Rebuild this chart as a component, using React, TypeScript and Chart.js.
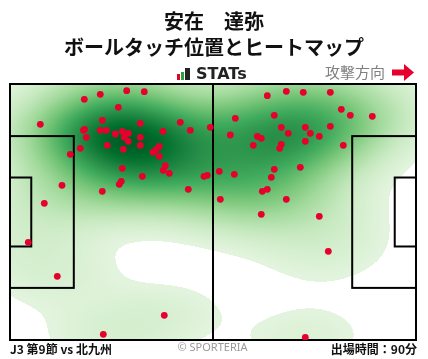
import React, { useEffect, useRef } from "react";
import { Chart, registerables } from "chart.js";

Chart.register(...registerables);

// Field in metres: 105 x 68 (x: attacking to the right, y: from top touchline)
const FIELD_LENGTH = 105;
const FIELD_WIDTH = 68;

const touchX: number[] = [
  30.18, 34.73, 23.35, 19.22, 28.01, 23.87, 7.84, 33.70, 44.04, 19.0, 19.3,
  23.35, 24.91, 29.04, 30.59, 27.23, 39.57, 46.63, 51.80, 19.73, 29.56, 33.70,
  30.59, 25.16, 33.70, 18.18, 29.30, 38.61, 37.68, 36.98, 15.59, 38.61, 40.16,
  39.65, 41.20, 29.04, 34.22, 50.17, 51.03, 28.78, 28.27, 23.87, 46.11, 13.45,
  8.87, 4.73, 12.23, 39.90, 24.13,
  71.46, 75.85, 82.84, 66.54, 85.68, 88.01, 93.70, 68.35, 58.27, 70.16, 76.37,
  82.84, 71.97, 77.66, 79.99, 56.97, 63.96, 64.99, 76.37, 62.92, 70.16, 69.75,
  86.20, 54.13, 58.01, 68.35, 75.08, 67.58, 66.54, 65.25, 54.39, 71.46, 64.99,
  79.99, 82.32, 76.37,
];
const touchY: number[] = [
  1.78, 2.05, 2.74, 4.06, 6.19, 9.64, 10.70, 10.44, 10.17, 12.30, 12.05, 12.30,
  12.30, 12.56, 13.10, 13.28, 12.56, 12.30, 11.50, 14.16, 14.16, 14.16, 15.22,
  16.28, 16.28, 17.08, 17.35, 16.55, 17.53, 18.14, 18.67, 19.20, 21.70, 22.92,
  23.72, 22.39, 24.52, 24.52, 24.25, 25.85, 26.64, 28.50, 27.97, 26.91, 31.69,
  42.05, 51.08, 61.44, 66.49,
  1.94, 2.20, 2.20, 3.11, 6.72, 8.31, 8.58, 8.31, 9.11, 11.50, 11.50, 11.24,
  13.10, 13.10, 13.89, 13.55, 13.89, 14.42, 15.22, 16.28, 16.02, 17.08, 16.28,
  23.19, 23.99, 22.66, 22.13, 24.78, 27.97, 28.50, 30.63, 30.63, 34.61, 35.14,
  44.44, 67.28,
];

const titleLines: string[] = ["安在　達弥", "ボールタッチ位置とヒートマップ"];
const brandText = "STATs";
const directionText = "攻撃方向";
const matchText = "J3 第9節 vs 北九州";
const creditText = "© SPORTERIA";
const minutesText = "出場時間：90分";

const GREENS: number[][] = [
  [247, 252, 245],
  [229, 245, 224],
  [199, 233, 192],
  [161, 217, 155],
  [116, 196, 118],
  [65, 171, 93],
  [35, 139, 69],
  [0, 109, 44],
  [0, 68, 27],
];

function greens(t: number): number[] {
  const v = Math.max(0, Math.min(1, t)) * (GREENS.length - 1);
  const i = Math.min(GREENS.length - 2, Math.floor(v));
  const f = v - i;
  const a = GREENS[i];
  const b = GREENS[i + 1];
  return [a[0] + (b[0] - a[0]) * f, a[1] + (b[1] - a[1]) * f, a[2] + (b[2] - a[2]) * f];
}

const JP = '"Noto Sans CJK JP", "Noto Sans", sans-serif';

const pitchPlugin = {
  id: "pitch",
  beforeDatasetsDraw(chart: any) {
    const ctx: CanvasRenderingContext2D = chart.ctx;
    const xs = chart.scales.x;
    const ys = chart.scales.y;
    const { left, top, right, bottom } = chart.chartArea;
    const w = Math.round(right - left);
    const h = Math.round(bottom - top);

    // --- KDE heatmap computed from the touch points ---
    if (!chart.$heat) {
      const px = touchX.map((v) => xs.getPixelForValue(v) - left);
      const py = touchY.map((v) => ys.getPixelForValue(v) - top);
      const n = px.length;
      const mx = px.reduce((a, b) => a + b, 0) / n;
      const my = py.reduce((a, b) => a + b, 0) / n;
      let sxx = 0, syy = 0, sxy = 0;
      for (let i = 0; i < n; i++) {
        sxx += (px[i] - mx) ** 2;
        syy += (py[i] - my) ** 2;
        sxy += (px[i] - mx) * (py[i] - my);
      }
      sxx /= n - 1; syy /= n - 1; sxy /= n - 1;
      const f2 = Math.pow(n, -2 / 6) * 1.05;
      const a = sxx * f2, d = syy * f2, b = sxy * f2;
      const det = a * d - b * b;
      const ia = d / det, id = a / det, ib = -b / det;
      const off = document.createElement("canvas");
      off.width = w; off.height = h;
      const octx = off.getContext("2d")!;
      const img = octx.createImageData(w, h);
      const dens = new Float32Array(w * h);
      let maxD = 0;
      for (let yy = 0; yy < h; yy++) {
        for (let xx = 0; xx < w; xx++) {
          let s = 0;
          for (let k = 0; k < n; k++) {
            const dx = xx + 0.5 - px[k];
            const dy = yy + 0.5 - py[k];
            const q = ia * dx * dx + 2 * ib * dx * dy + id * dy * dy;
            if (q < 30) s += Math.exp(-0.5 * q);
          }
          dens[yy * w + xx] = s;
          if (s > maxD) maxD = s;
        }
      }
      for (let i = 0; i < w * h; i++) {
        const v = dens[i] / maxD;
        let c: number[];
        if (v < 0.025) c = [255, 255, 255];
        else c = greens(0.07 + 0.86 * Math.pow(v, 0.72));
        img.data[i * 4] = c[0];
        img.data[i * 4 + 1] = c[1];
        img.data[i * 4 + 2] = c[2];
        img.data[i * 4 + 3] = 255;
      }
      octx.putImageData(img, 0, 0);
      chart.$heat = off;
    }
    ctx.drawImage(chart.$heat, left, top);

    // --- field markings ---
    const X = (v: number) => xs.getPixelForValue(v);
    const Y = (v: number) => ys.getPixelForValue(v);
    ctx.save();
    ctx.strokeStyle = "#000";
    ctx.lineWidth = 2;
    ctx.strokeRect(X(0), Y(0), X(FIELD_LENGTH) - X(0), Y(FIELD_WIDTH) - Y(0));
    ctx.beginPath();
    ctx.moveTo(X(FIELD_LENGTH / 2), Y(0));
    ctx.lineTo(X(FIELD_LENGTH / 2), Y(FIELD_WIDTH));
    ctx.stroke();
    const pbTop = (FIELD_WIDTH - 40.32) / 2;
    const gaTop = (FIELD_WIDTH - 18.32) / 2;
    ctx.strokeRect(X(0), Y(pbTop), X(16.5) - X(0), Y(pbTop + 40.32) - Y(pbTop));
    ctx.strokeRect(X(0), Y(gaTop), X(5.5) - X(0), Y(gaTop + 18.32) - Y(gaTop));
    ctx.strokeRect(X(FIELD_LENGTH - 16.5), Y(pbTop), X(16.5) - X(0), Y(pbTop + 40.32) - Y(pbTop));
    ctx.strokeRect(X(FIELD_LENGTH - 5.5), Y(gaTop), X(5.5) - X(0), Y(gaTop + 18.32) - Y(gaTop));
    ctx.restore();
  },
  afterDraw(chart: any) {
    const ctx: CanvasRenderingContext2D = chart.ctx;
    const W = chart.width;
    ctx.save();
    ctx.textBaseline = "middle";
    // title
    ctx.fillStyle = "#111";
    ctx.textAlign = "center";
    ctx.font = `bold 20px ${JP}`;
    ctx.fillText(titleLines[0], W / 2, 21);
    ctx.fillText(titleLines[1], W / 2, 47);
    // STATs logo
    ctx.fillStyle = "#e6002d";
    ctx.fillRect(177, 74, 3, 6);
    ctx.fillStyle = "#2e9e3e";
    ctx.fillRect(181, 72, 3, 8);
    ctx.fillStyle = "#222";
    ctx.fillRect(185, 68, 5, 12);
    ctx.textAlign = "left";
    ctx.font = 'bold 16px "DejaVu Sans", sans-serif';
    ctx.fillText(brandText, 196, 74.5);
    // attack direction
    ctx.fillStyle = "#808080";
    ctx.font = `15px ${JP}`;
    ctx.fillText(directionText, 325, 72);
    ctx.fillStyle = "#e6002d";
    ctx.fillRect(392, 69.5, 13, 6);
    ctx.beginPath();
    ctx.moveTo(404, 64);
    ctx.lineTo(414, 72.5);
    ctx.lineTo(404, 81);
    ctx.closePath();
    ctx.fill();
    // footer
    ctx.fillStyle = "#111";
    ctx.font = `bold 12px ${JP}`;
    ctx.textAlign = "left";
    ctx.fillText(matchText, 10, 349);
    ctx.textAlign = "right";
    ctx.fillText(minutesText, 417, 349);
    ctx.fillStyle = "#999";
    ctx.textAlign = "center";
    ctx.font = '11px "Noto Sans", sans-serif';
    ctx.fillText(creditText, 212.5, 348);
    ctx.restore();
  },
};

export default function App() {
  const ref = useRef<HTMLCanvasElement | null>(null);
  useEffect(() => {
    document.body.style.margin = "0";
    const canvas = ref.current!;
    const chart = new Chart(canvas, {
      type: "scatter",
      data: {
        datasets: [
          {
            data: touchX.map((x, i) => ({ x, y: touchY[i] })),
            backgroundColor: "#e6002d",
            borderWidth: 0,
            pointRadius: 3.4,
            pointHoverRadius: 3.4,
          },
        ],
      },
      options: {
        responsive: false,
        animation: false,
        layout: { padding: { left: 10, right: 12, top: 84, bottom: 19 } },
        scales: {
          x: { type: "linear", min: 0, max: FIELD_LENGTH, display: false },
          y: { type: "linear", min: 0, max: FIELD_WIDTH, reverse: true, display: false },
        },
        plugins: { legend: { display: false }, tooltip: { enabled: false } },
        events: [],
      },
      plugins: [pitchPlugin],
    });
    return () => chart.destroy();
  }, []);
  return (
    <div style={{ width: 428, height: 359, background: "#fff" }}>
      <canvas ref={ref} width={428} height={359} style={{ display: "block" }} />
    </div>
  );
}
